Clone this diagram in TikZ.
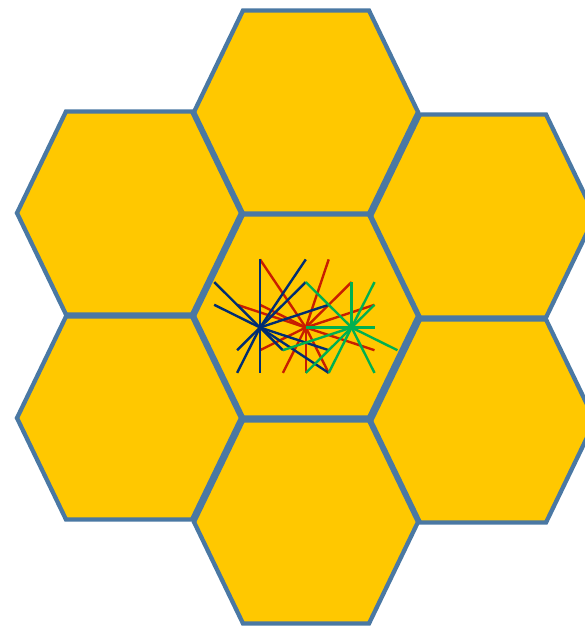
\documentclass[tikz,border=0pt]{standalone}
\usetikzlibrary{calc}
\definecolor{cellfill}{RGB}{255,200,0}
\definecolor{cellline}{RGB}{74,120,163}
\definecolor{navyray}{RGB}{0,45,114}
\definecolor{redray}{RGB}{200,30,0}
\definecolor{greenray}{RGB}{0,176,80}

\begin{document}
\begin{tikzpicture}[x=1pt, y=-1pt,
  cell/.style={draw=cellline, fill=cellfill, line width=4.3pt},
  ray/.style={line width=2.4pt}
]
  %% CANVAS
  \useasboundingbox (0,0) rectangle (585,628);
  \clip (0,0) rectangle (585,628);

  %% HEXAGON CELLS (middle one last)
  \foreach \cx/\cy/\nm in {306/112/top, 129/213/upleft, 483/216/upright,
                           129/418/lowleft, 483/421/lowright, 306/522/bottom,
                           306/316/middle} {
    \coordinate (\nm) at (\cx,\cy);
    \draw[cell] (\nm) ++(-112,0) -- ++(49,-101.5) -- ++(126,0)
      -- ++(49,101.5) -- ++(-49,101.5) -- ++(-126,0) -- cycle;
  }

  %% RAY BURSTS on a small grid
  \begin{scope}[shift={(260,327.5)}, x=22.9pt, y=22.7pt]
    \coordinate (navyhub) at (0,0);
    \coordinate (redhub) at (2,0);
    \coordinate (greenhub) at (4,0);

    %% red burst
    \foreach \p in {(0,3),(3,3),(4,2),(5,1),(5,-1),(3,-2),(2,-2),(1,-2),
                    (0,-1),(-1,1),(0,1)}
      \draw[ray, redray] (redhub) -- \p;

    %% navy burst
    \foreach \p in {(0,3),(0,-2),(-2,2),(-2,1),(2,3),(2,2),(3,1),(-1,-1),
                    (-1,-2),(1,-1),(3,-1),(3,-2)}
      \draw[ray, navyray] (navyhub) -- \p;

    %% green burst
    \foreach \p in {(4,2),(5,2),(5,1),(5,0),(6,-1),(5,-2),(3,-2),(2,-2),
                    (1,-1),(2,0),(2,2)}
      \draw[ray, greenray] (greenhub) -- \p;
  \end{scope}

\end{tikzpicture}
\end{document}
